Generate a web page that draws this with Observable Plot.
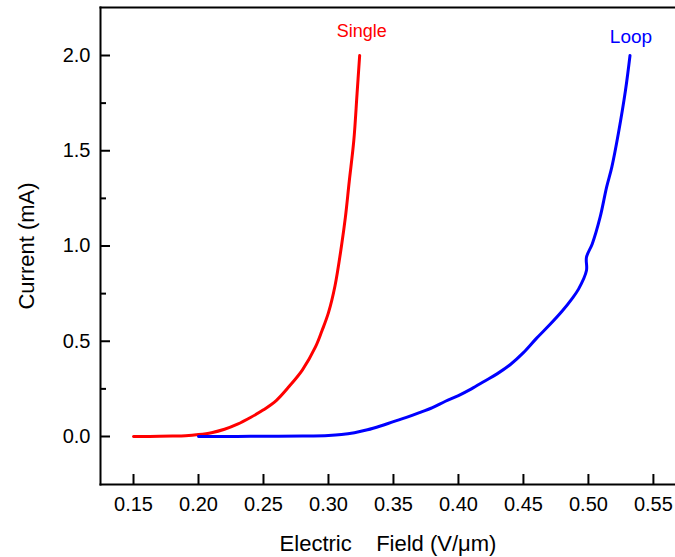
<!DOCTYPE html>
<html>
<head>
<meta charset="utf-8">
<script src="https://cdn.jsdelivr.net/npm/d3@7"></script>
<script src="https://cdn.jsdelivr.net/npm/@observablehq/plot@0.6"></script>
<style>
  html, body { margin: 0; padding: 0; background: #fff; }
  #chart svg { display: block; }
</style>
</head>
<body>
<div id="chart"></div>
<script>
// Single emitter: electric field (V/µm) and current (mA)
const singleField   = [0.150, 0.160, 0.170, 0.180, 0.190, 0.200, 0.210, 0.220, 0.230, 0.240, 0.250, 0.260, 0.270, 0.280, 0.290, 0.295, 0.300, 0.305, 0.310, 0.313, 0.316, 0.3195, 0.322, 0.324];
const singleCurrent = [0.000, 0.000, 0.001, 0.002, 0.004, 0.010, 0.020, 0.038, 0.065, 0.100, 0.140, 0.190, 0.265, 0.350, 0.470, 0.555, 0.650, 0.790, 1.000, 1.150, 1.340, 1.554, 1.800, 2.000];

// Loop emitter
const loopField   = [0.200, 0.220, 0.240, 0.260, 0.280, 0.300, 0.310, 0.320, 0.330, 0.340, 0.350, 0.360, 0.370, 0.380, 0.390, 0.400, 0.410, 0.420, 0.430, 0.440, 0.450, 0.460, 0.470, 0.480, 0.487, 0.4925, 0.4985, 0.4985, 0.503, 0.509, 0.514, 0.518, 0.523, 0.5285, 0.532];
const loopCurrent = [0.000, 0.000, 0.001, 0.001, 0.002, 0.005, 0.010, 0.020, 0.035, 0.055, 0.078, 0.100, 0.125, 0.152, 0.185, 0.215, 0.250, 0.290, 0.330, 0.378, 0.440, 0.515, 0.585, 0.660, 0.720, 0.775, 0.871, 0.941, 1.012, 1.151, 1.309, 1.414, 1.589, 1.816, 2.000];

const seriesNames  = ["Single", "Loop"];
const seriesColors = ["#ff0000", "#0000ff"];

const xDomain = [0.1246, 0.567];
const yDomain = [-0.252, 2.252];
const xTicks = [0.15, 0.20, 0.25, 0.30, 0.35, 0.40, 0.45, 0.50, 0.55];
const yTicks = [0.0, 0.5, 1.0, 1.5, 2.0];
const yMinorTicks = [0.25, 0.75, 1.25, 1.75];

const xLabel = "Electric\u00a0\u00a0\u00a0\u00a0Field (V/\u03bcm)";
const yLabel = "Current (mA)";

const single = singleField.map((x, i) => ({x, y: singleCurrent[i], s: seriesNames[0]}));
const loop = loopField.map((x, i) => ({x, y: loopCurrent[i], s: seriesNames[1]}));
const ends = [single[single.length - 1], loop[loop.length - 1]];

const W = 675, H = 557;
const mL = 100, mR = 0, mT = 7, mB = 73;
const plotW = W - mL - mR, plotH = H - mT - mB;
const font = "'Liberation Sans', Arial, Helvetica, sans-serif";

const chart = Plot.plot({
  width: W,
  height: H,
  marginLeft: mL,
  marginRight: mR,
  marginTop: mT,
  marginBottom: mB,
  style: {fontFamily: font, background: "#fff", color: "#000"},
  x: {domain: xDomain},
  y: {domain: yDomain},
  color: {domain: seriesNames, range: seriesColors},
  marks: [
    // curves
    Plot.line(single, {x: "x", y: "y", stroke: "s", strokeWidth: 3, curve: "catmull-rom", strokeLinejoin: "round", strokeLinecap: "round"}),
    Plot.line(loop, {x: "x", y: "y", stroke: "s", strokeWidth: 3, curve: "catmull-rom", strokeLinejoin: "round", strokeLinecap: "round"}),
    // series labels
    Plot.text([ends[0]], {x: "x", y: "y", text: "s", fill: "s", fontSize: 18, lineAnchor: "bottom", dy: -19, dx: 2}),
    Plot.text([ends[1]], {x: "x", y: "y", text: "s", fill: "s", fontSize: 19, lineAnchor: "bottom", dy: -13, dx: 1}),
    // inward ticks
    Plot.tickX(xTicks, {x: d => d, insetTop: plotH - 10, stroke: "#000", strokeWidth: 2}),
    Plot.tickY(yTicks, {y: d => d, insetRight: plotW - 10, stroke: "#000", strokeWidth: 2}),
    Plot.tickY(yMinorTicks, {y: d => d, insetRight: plotW - 6, stroke: "#000", strokeWidth: 2}),
    // tick labels
    Plot.axisX({ticks: xTicks, tickFormat: d3.format(".2f"), tickSize: 0, tickPadding: 12, fontSize: 20, label: null}),
    Plot.axisY({ticks: yTicks, tickFormat: d3.format(".1f"), tickSize: 0, tickPadding: 10, fontSize: 20, label: null}),
    // axis titles
    Plot.text([xLabel], {text: d => d, frameAnchor: "bottom", dy: 66, lineAnchor: "bottom", fontSize: 22}),
    Plot.text([yLabel], {text: d => d, frameAnchor: "left", textAnchor: "middle", rotate: -90, dx: -74, fontSize: 22}),
    // axis lines
    Plot.frame({anchor: "left", stroke: "#000", strokeWidth: 2}),
    Plot.frame({anchor: "bottom", stroke: "#000", strokeWidth: 2}),
    Plot.frame({anchor: "top", stroke: "#000", strokeWidth: 2})
  ]
});
document.getElementById("chart").appendChild(chart);
</script>
</body>
</html>
